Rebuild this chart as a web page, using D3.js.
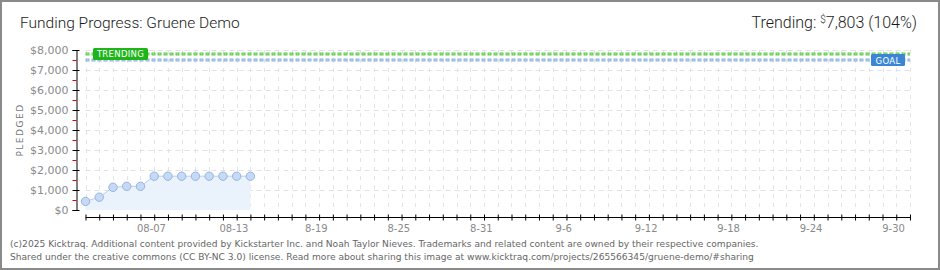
<!DOCTYPE html>
<html>
<head>
<meta charset="utf-8">
<script src="https://cdn.jsdelivr.net/npm/d3@7"></script>
<style>
  body { margin: 0; background: #fff; }
  svg { display: block; }
</style>
</head>
<body>
<svg class="chart"></svg>
<script>
// pledged totals per day
var dayDates = ["2025-08-03", "2025-08-04", "2025-08-05", "2025-08-06", "2025-08-07", "2025-08-08",
  "2025-08-09", "2025-08-10", "2025-08-11", "2025-08-12", "2025-08-13", "2025-08-14", "2025-08-15"];
var pledged = [430, 640, 1135, 1185, 1185, 1690, 1690, 1690, 1690, 1690, 1690, 1690, 1690];

var goal = 7500;
var trending = 7803;
var campaign = ["2025-08-03", "2025-10-02"];

var yTicks = [0, 1000, 2000, 3000, 4000, 5000, 6000, 7000, 8000];
var tickDates = ["2025-08-07", "2025-08-13", "2025-08-19", "2025-08-25", "2025-08-31",
  "2025-09-06", "2025-09-12", "2025-09-18", "2025-09-24", "2025-09-30"];
var tickLabels = ["08-07", "08-13", "8-19", "8-25", "8-31", "9-6", "9-12", "9-18", "9-24", "9-30"];

var width = 940, height = 270;
var parse = d3.timeParse("%Y-%m-%d");

var svg = d3.select(".chart")
    .attr("width", width)
    .attr("height", height);

// frame
svg.append("rect")
    .attr("x", 1).attr("y", 1)
    .attr("width", width - 2).attr("height", height - 2)
    .attr("fill", "#fff")
    .attr("stroke", "#8a8a8a")
    .attr("stroke-width", 2);

var x = d3.scaleTime()
    .domain(campaign.map(parse))
    .range([85.5, 910]);

var y = d3.scaleLinear()
    .domain([0, 8000])
    .range([210, 50]);

var days = d3.timeDay.range(x.domain()[0], d3.timeDay.offset(x.domain()[1], 1));

//grid
var grid = svg.append("g");
grid.selectAll(".vg")
    .data(days)
    .enter().append("line")
    .attr("x1", function(d) { return Math.round(x(d)) + 0.5; })
    .attr("x2", function(d) { return Math.round(x(d)) + 0.5; })
    .attr("y1", y(8000))
    .attr("y2", y(0))
    .attr("stroke", "#e4e4e4")
    .attr("stroke-dasharray", "4,5");
grid.selectAll(".hg")
    .data(yTicks.slice(1))
    .enter().append("line")
    .attr("x1", x.range()[0])
    .attr("x2", x.range()[1])
    .attr("y1", function(d) { return y(d) + 0.5; })
    .attr("y2", function(d) { return y(d) + 0.5; })
    .attr("stroke", "#e2e2e2")
    .attr("stroke-dasharray", "5,4");

// area + line + dots
var pts = dayDates.map(function(d, i) { return {date: parse(d), value: pledged[i]}; });

svg.append("path")
    .datum(pts)
    .attr("fill", "#eaf2fc")
    .attr("d", d3.area()
      .x(function(d) { return x(d.date); })
      .y0(y(0))
      .y1(function(d) { return y(d.value); }));

svg.append("path")
    .datum(pts)
    .attr("fill", "none")
    .attr("stroke", "#b9d1f0")
    .attr("stroke-width", 1)
    .attr("d", d3.line()
      .x(function(d) { return x(d.date); })
      .y(function(d) { return y(d.value); }));

svg.selectAll(".dot")
    .data(pts)
    .enter().append("circle")
    .attr("cx", function(d) { return x(d.date); })
    .attr("cy", function(d) { return y(d.value); })
    .attr("r", 4.2)
    .attr("fill", "#c4daf6")
    .attr("stroke", "#98b4dc")
    .attr("stroke-width", 1);

// goal and trending lines
function refLine(val, outer, inner) {
  svg.append("line")
      .attr("x1", x.range()[0]).attr("x2", x.range()[1])
      .attr("y1", y(val)).attr("y2", y(val))
      .attr("stroke", outer).attr("stroke-width", 3)
      .attr("stroke-dasharray", "4,2");
  svg.append("line")
      .attr("x1", x.range()[0] + 1).attr("x2", x.range()[1])
      .attr("y1", y(val)).attr("y2", y(val))
      .attr("stroke", inner).attr("stroke-width", 1)
      .attr("stroke-dasharray", "2,4");
}
refLine(goal, "#8db0e2", "#c9daf3");
refLine(trending, "#5ccc4c", "#a9e8a0");

function badge(val, bx, bw, fill, label) {
  svg.append("rect")
      .attr("x", bx).attr("y", y(val) - 6)
      .attr("width", bw).attr("height", 12)
      .attr("rx", 1.5)
      .attr("fill", fill);
  svg.append("text")
      .attr("x", bx + bw / 2).attr("y", y(val) + 3.5)
      .attr("text-anchor", "middle")
      .style("font-family", "DejaVu Sans, sans-serif")
      .style("font-size", "8.5px")
      .style("letter-spacing", "0.3px")
      .attr("fill", "#fff")
      .text(label);
}
badge(trending, 93, 55, "#1fb51a", "TRENDING");
badge(goal, 871, 34, "#3a86d4", "GOAL");

// y axis
var yAxis = svg.append("g")
    .attr("transform", "translate(76.5,0)")
    .call(d3.axisLeft(y).tickValues(yTicks).tickSize(4).tickFormat(d3.format("$,")));
yAxis.select(".domain").attr("stroke", "#000");
yAxis.selectAll(".tick line").attr("stroke", "#000").attr("x2", 3).attr("x1", -4);
yAxis.selectAll("text")
    .attr("x", -8)
    .attr("fill", "#8a8a8a")
    .style("font-family", "DejaVu Sans, sans-serif")
    .style("font-size", "11px");

svg.append("g")
    .attr("transform", "translate(76.5,0)")
    .selectAll("line")
    .data(d3.range(500, 8000, 1000))
    .enter().append("line")
    .attr("x1", -4).attr("x2", 0)
    .attr("y1", function(d) { return y(d) + 0.5; })
    .attr("y2", function(d) { return y(d) + 0.5; })
    .attr("stroke", "#e00000");

svg.append("text")
    .attr("transform", "translate(23," + y(4000) + ") rotate(-90)")
    .attr("text-anchor", "middle")
    .attr("fill", "#777")
    .style("font-family", "DejaVu Sans, sans-serif")
    .style("font-size", "9px")
    .style("letter-spacing", "1.5px")
    .text("PLEDGED");

// x axis
var xAxis = svg.append("g")
    .attr("transform", "translate(0,217.5)")
    .call(d3.axisBottom(x).tickValues(days).tickSize(3).tickFormat(""));
xAxis.select(".domain").attr("stroke", "#000").attr("d", "M" + x.range()[0] + ",0H" + x.range()[1]);
xAxis.selectAll(".tick line").attr("stroke", "#000").attr("y1", -3).attr("y2", 3);

svg.append("g")
    .selectAll("text")
    .data(tickDates)
    .enter().append("text")
    .attr("x", function(d) { return x(parse(d)) + 11; })
    .attr("y", 232)
    .attr("text-anchor", "middle")
    .attr("fill", "#8a8a8a")
    .style("font-family", "DejaVu Sans, sans-serif")
    .style("font-size", "10px")
    .text(function(d, i) { return tickLabels[i]; });

// title
svg.append("text")
    .attr("x", 20).attr("y", 28)
    .attr("fill", "#1a1a1a")
    .style("font-family", "Roboto, sans-serif")
    .style("font-size", "15.5px")
    .style("font-weight", "300")
    .text("Funding Progress: Gruene Demo");

var tr = svg.append("text")
    .attr("x", 917).attr("y", 28)
    .attr("text-anchor", "end")
    .attr("fill", "#1a1a1a")
    .style("font-family", "Roboto, sans-serif")
    .style("font-size", "16px")
    .style("font-weight", "300");
tr.append("tspan").text("Trending:  ");
tr.append("tspan").attr("dy", -5).style("font-size", "10px").text("$");
tr.append("tspan").attr("dy", 5).text(d3.format(",")(trending) + " (" + Math.round(trending / goal * 100) + "%)");

// footer
var foot = [
  "(c)2025 Kicktraq. Additional content provided by Kickstarter Inc. and Noah Taylor Nieves. Trademarks and related content are owned by their respective companies.",
  "Shared under the creative commons (CC BY-NC 3.0) license. Read more about sharing this image at www.kicktraq.com/projects/265566345/gruene-demo/#sharing"
];
svg.selectAll(".foot")
    .data(foot)
    .enter().append("text")
    .attr("x", 10)
    .attr("y", function(d, i) { return 247 + i * 13; })
    .attr("fill", "#666")
    .style("font-family", "DejaVu Sans, sans-serif")
    .style("font-size", "9.1px")
    .text(function(d) { return d; });
</script>
</body>
</html>
